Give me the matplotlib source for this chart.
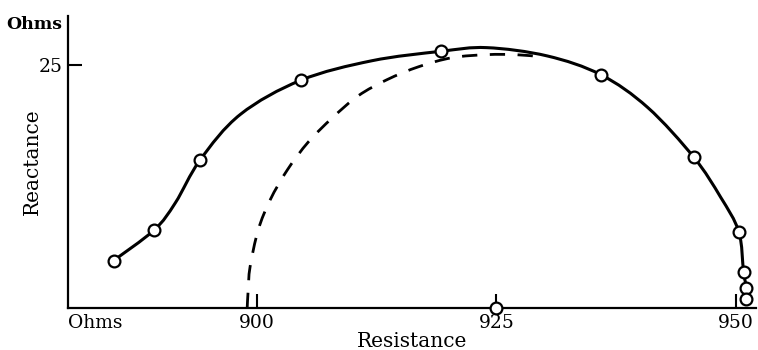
import matplotlib
matplotlib.use('Agg')
import matplotlib.pyplot as plt
from matplotlib.path import Path
from matplotlib.patches import PathPatch

# measured points (resistance, reactance) in ohms
res_pts = [885.05, 889.3, 894.1, 904.6, 919.2, 935.9, 945.6, 950.3, 950.8, 951.1, 951.1, 925.0]
reac_pts = [4.87, 8.02, 15.23, 23.40, 26.37, 23.97, 15.50, 7.85, 3.73, 2.03, 0.90, 0.0]

# solid curve drawn through the measured points
res_curve = [885.05, 889.3, 891.5, 894.1, 898.3, 904.6, 912.0, 919.2, 924.0, 930.3,
             935.9, 940.8, 945.6, 948.4, 950.3, 950.8, 951.1, 951.1]
reac_curve = [4.87, 8.02, 10.8, 15.23, 19.9, 23.40, 25.4, 26.37, 26.75, 25.9,
              23.97, 20.6, 15.50, 11.4, 7.85, 3.73, 2.03, 0.90]

# dashed curve
res_dash = [899.0, 899.1, 899.3, 900.15, 901.4, 903.2, 905.4, 907.9, 910.6, 913.6,
            916.9, 920.4, 924.05, 927.0, 929.6]
reac_dash = [0.0, 1.8, 4.22, 8.02, 11.11, 14.2, 17.08, 19.55, 21.81, 23.46,
             24.79, 25.72, 26.03, 26.03, 25.82]

xticks = [900, 925, 950]
yticks = [25]


def smooth_path(xs, ys):
    # catmull-rom style bezier through the given points
    pts = list(zip(xs, ys))
    n = len(pts)
    verts = [pts[0]]
    codes = [Path.MOVETO]
    for i in range(n - 1):
        p0 = pts[i - 1] if i > 0 else pts[i]
        p1 = pts[i]
        p2 = pts[i + 1]
        p3 = pts[i + 2] if i + 2 < n else pts[i + 1]
        c1 = (p1[0] + (p2[0] - p0[0]) / 6, p1[1] + (p2[1] - p0[1]) / 6)
        c2 = (p2[0] - (p3[0] - p1[0]) / 6, p2[1] - (p3[1] - p1[1]) / 6)
        verts += [c1, c2, p2]
        codes += [Path.CURVE4] * 3
    return Path(verts, codes)


plt.rcParams['font.family'] = 'DejaVu Serif'

fig = plt.figure(figsize=(7.58, 3.5), dpi=100)
ax = fig.add_axes([68/758, 1-308/350, 688/758, 292/350])

ax.add_patch(PathPatch(smooth_path(res_curve, reac_curve), fill=False, ec='black',
                       lw=2.2, capstyle='round', zorder=2))
ax.add_patch(PathPatch(smooth_path(res_dash, reac_dash), fill=False, ec='black',
                       lw=2.0, linestyle=(0, (5.5, 4.5)), zorder=2))
ax.plot(res_pts, reac_pts, 'o', ms=8.5, mfc='white', mec='black', mew=1.6,
        clip_on=False, zorder=5)

ax.set_xlim(880.3, 952.1)
ax.set_ylim(0, 30.0)

for s in ['top', 'right']:
    ax.spines[s].set_visible(False)
for s in ['left', 'bottom']:
    ax.spines[s].set_linewidth(1.6)

ax.set_xticks(xticks)
ax.set_yticks(yticks)
ax.set_xticklabels([str(t) for t in xticks])
ax.set_yticklabels([str(t) for t in yticks])
ax.tick_params(axis='both', direction='in', length=10, width=1.5, labelsize=13.5, pad=4)

ax.text(0.0, -0.02, 'Ohms', transform=ax.transAxes, ha='left', va='top', fontsize=13.5)
ax.text(-0.008, 29.1, 'Ohms', transform=ax.get_yaxis_transform(), ha='right',
        va='center', fontsize=12.5, fontweight='bold')

ax.set_xlabel('Resistance', fontsize=14.5, labelpad=0)
ax.set_ylabel('Reactance', fontsize=14.5)
ax.yaxis.set_label_coords(-0.038, 0.5)

fig.savefig('out.png', dpi=100)
